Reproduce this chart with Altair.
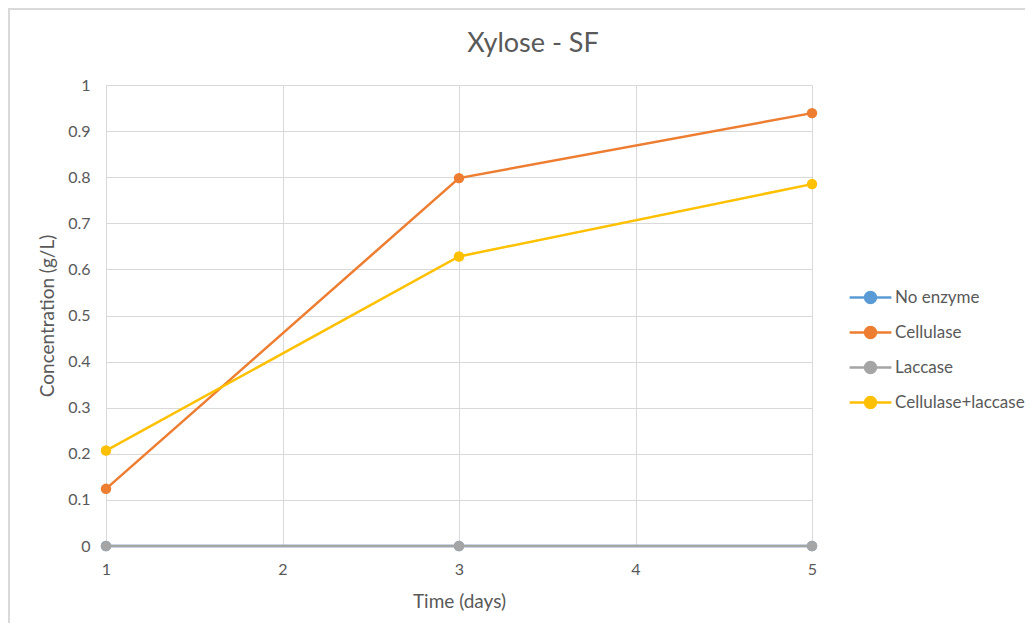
import altair as alt
import pandas as pd

days = [1, 3, 5]
series_names = ["No enzyme", "Cellulase", "Laccase", "Cellulase+laccase"]
no_enzyme = [0, 0, 0]
cellulase = [0.124, 0.798, 0.939]
laccase = [0, 0, 0]
cellulase_laccase = [0.207, 0.628, 0.785]
series_colors = ["#5B9BD5", "#ED7D31", "#A5A5A5", "#FFC000"]
x_ticks = [1, 2, 3, 4, 5]
y_ticks = [0, 0.1, 0.2, 0.3, 0.4, 0.5, 0.6, 0.7, 0.8, 0.9, 1]
chart_title = "Xylose - SF"

rows = []
for name, vals in zip(series_names, [no_enzyme, cellulase, laccase, cellulase_laccase]):
    for d, v in zip(days, vals):
        rows.append({"Time": d, "Concentration": v, "Series": name})
df = pd.DataFrame(rows)

FONT = "Lato"
TXT = "#595959"
GRID = "#D9D9D9"

legend_symbol = "M-1.9,0L1.9,0M-0.5,0A0.5,0.5 0 1,0 0.5,0A0.5,0.5 0 1,0 -0.5,0Z"

x_enc = alt.X(
    "Time:Q",
    scale=alt.Scale(domain=[1, 5], nice=False, zero=False),
    axis=alt.Axis(values=x_ticks, title="Time (days)", format="d", labelFlush=False),
)
y_enc = alt.Y(
    "Concentration:Q",
    scale=alt.Scale(domain=[0, 1], nice=False),
    axis=alt.Axis(
        values=y_ticks,
        title="Concentration (g/L)",
        labelFlush=False,
        labelExpr="datum.value == 0 ? '0' : datum.value == 1 ? '1' : format(datum.value, '.1f')",
    ),
)
color_enc = alt.Color(
    "Series:N",
    scale=alt.Scale(domain=series_names, range=series_colors),
    legend=alt.Legend(
        title=None,
        orient="none",
        legendX=752,
        legendY=200,
        symbolType=legend_symbol,
        symbolSize=484,
        symbolStrokeWidth=2.5,
        labelOffset=12,
        rowPadding=12,
        padding=0,
        labelFont=FONT,
        labelFontSize=17,
        labelColor=TXT,
    ),
)

layers = []
frame = alt.Chart(df).mark_rect(fill=None, stroke=GRID, strokeWidth=1.5).encode(
    x=alt.value(-97), x2=alt.value(1200), y=alt.value(-76), y2=alt.value(900)
)
layers.append(frame)
title_text = alt.Chart(df).transform_filter(alt.datum.Series == series_names[0]).transform_filter(
    alt.datum.Time == days[0]
).mark_text(font=FONT, fontSize=27, color=TXT, baseline="middle", align="center").encode(
    text=alt.value(chart_title), x=alt.value(427), y=alt.value(-41)
)
layers.append(title_text)
for name in series_names:
    base = alt.Chart(df).transform_filter(alt.datum.Series == name)
    layers.append(base.mark_line(strokeWidth=2.5).encode(x=x_enc, y=y_enc, color=color_enc))
    layers.append(base.mark_point(filled=True, size=110, opacity=1).encode(x=x_enc, y=y_enc, color=color_enc))

chart = (
    alt.layer(*layers)
    .properties(
        width=706,
        height=461,
        autosize=alt.AutoSizeParams(type="none"),
        padding={"left": 98, "top": 77, "right": 213, "bottom": 77},
    )
    .configure_view(strokeWidth=0)
    .configure_axis(
        grid=True, gridColor=GRID, gridWidth=1, domainColor=GRID, domainWidth=1,
        ticks=False, labelFont=FONT, labelFontSize=16, labelColor=TXT,
        titleFont=FONT, titleFontSize=19, titleColor=TXT, titleFontWeight="normal",
    )
    .configure_axisX(labelPadding=15, titlePadding=15)
    .configure_axisY(labelPadding=16, titlePadding=10)
)

chart.save("out.html", embed_options={"renderer": "svg", "actions": False})
